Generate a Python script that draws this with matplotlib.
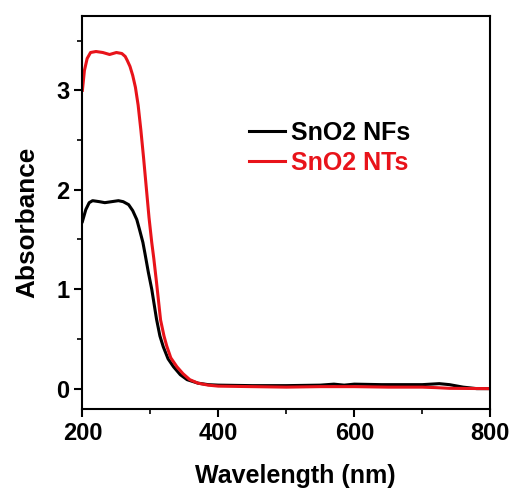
import numpy as np
import matplotlib
matplotlib.use("Agg")
import matplotlib.pyplot as plt
from matplotlib.ticker import MultipleLocator

# wavelength (nm) / absorbance
wl_nfs = [200, 205, 210, 215, 225, 233, 243, 253, 260, 268, 274, 280, 284, 289,
          292, 297, 302, 309, 314, 319, 326, 334, 344, 354, 370, 385, 400, 450,
          500, 550, 570, 585, 600, 640, 700, 725, 740, 760, 780, 800]
abs_nfs = [1.68, 1.80, 1.87, 1.89, 1.88, 1.87, 1.88, 1.89, 1.88, 1.85, 1.79, 1.70,
           1.60, 1.47, 1.36, 1.17, 1.00, 0.70, 0.53, 0.42, 0.30, 0.22, 0.14, 0.09,
           0.055, 0.04, 0.035, 0.03, 0.03, 0.035, 0.045, 0.035, 0.045, 0.04, 0.04,
           0.05, 0.04, 0.015, 0.0, 0.0]

wl_nts = [200, 203, 207, 212, 220, 230, 240, 250, 258, 263, 266, 270, 274, 278,
          282, 286, 290, 294, 298, 302, 305, 309, 315, 320, 324, 330, 339, 348,
          358, 370, 385, 400, 450, 500, 550, 600, 650, 700, 720, 740, 800]
abs_nts = [3.00, 3.20, 3.32, 3.38, 3.39, 3.38, 3.36, 3.38, 3.37, 3.34, 3.30, 3.24,
           3.15, 3.03, 2.85, 2.60, 2.32, 2.02, 1.72, 1.47, 1.31, 1.07, 0.69, 0.53,
           0.43, 0.31, 0.22, 0.15, 0.09, 0.055, 0.035, 0.025, 0.02, 0.015, 0.02,
           0.02, 0.015, 0.015, 0.01, 0.003, 0.0]

labels = ["SnO2 NFs", "SnO2 NTs"]
colors = ["black", "#e8131a"]

plt.rcParams['font.family'] = ['Liberation Sans', 'DejaVu Sans']
plt.rcParams['font.weight'] = 'bold'

fig = plt.figure(figsize=(5.15, 4.91), dpi=100)
ax = fig.add_axes([0.160, 0.168, 0.792, 0.800])

ax.plot(wl_nfs, abs_nfs, color=colors[0], lw=2.2, label=labels[0])
ax.plot(wl_nts, abs_nts, color=colors[1], lw=2.2, label=labels[1])

ax.set_xlim(200, 800)
ax.set_ylim(-0.2, 3.75)
ax.xaxis.set_major_locator(MultipleLocator(200))
ax.xaxis.set_minor_locator(MultipleLocator(100))
ax.yaxis.set_major_locator(MultipleLocator(1))
ax.yaxis.set_minor_locator(MultipleLocator(0.5))

for s in ax.spines.values():
    s.set_linewidth(1.5)
ax.tick_params(which='major', direction='out', length=5.5, width=1.5,
               labelsize=17, pad=4)
ax.tick_params(which='minor', direction='out', length=3.5, width=1.2)
for t in ax.get_xticklabels() + ax.get_yticklabels():
    t.set_fontweight('bold')

ax.set_xlabel("Wavelength (nm)", fontsize=18, fontweight='bold', labelpad=14)
ax.set_ylabel("Absorbance", fontsize=18.8, fontweight='bold', labelpad=12)
ax.xaxis.get_label().set_x(0.523)
ax.yaxis.get_label().set_y(0.473)

leg = ax.legend(loc='center left', bbox_to_anchor=(0.408, 0.664), frameon=False,
                handlelength=1.45, handletextpad=0.22,
                borderpad=0, borderaxespad=0, labelspacing=0.25,
                prop={'weight': 'bold', 'size': 18})
for txt, c in zip(leg.get_texts(), colors):
    txt.set_color(c)
for h in leg.get_lines():
    h.set_linewidth(2.2)

fig.savefig("out.png", dpi=100)
